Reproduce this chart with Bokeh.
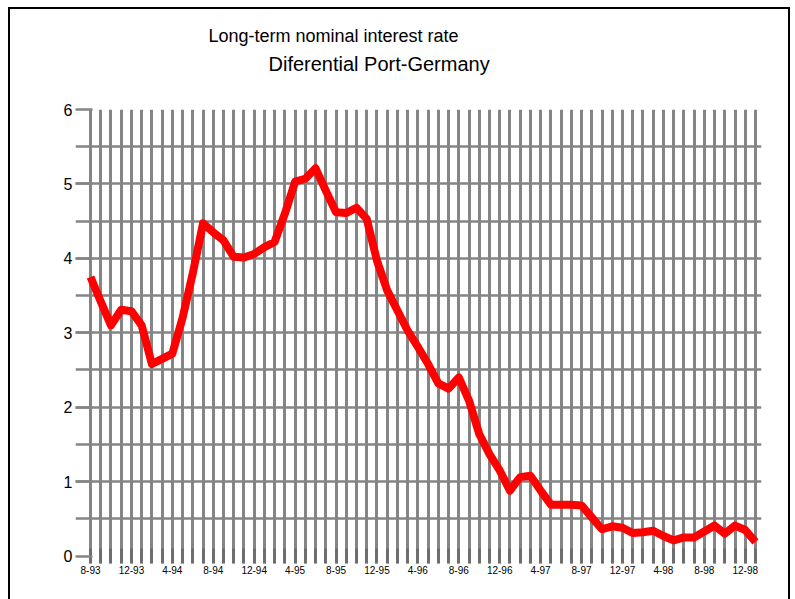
from bokeh.plotting import figure
from bokeh.models import Range1d, FixedTicker, Title, ColumnDataSource
from bokeh.embed import file_html
from bokeh.resources import INLINE

# Monthly data, Aug 1993 .. Jan 1999
months_idx = list(range(66))
differential = [
    3.75, 3.42, 3.10, 3.31, 3.29, 3.10, 2.58, 2.65, 2.72, 3.20,
    3.80, 4.47, 4.35, 4.24, 4.02, 4.01, 4.06, 4.15, 4.22, 4.60,
    5.03, 5.07, 5.21, 4.91, 4.62, 4.61, 4.68, 4.53, 3.97, 3.57,
    3.30, 3.03, 2.81, 2.58, 2.32, 2.25, 2.40, 2.09, 1.64, 1.37,
    1.15, 0.88, 1.06, 1.08, 0.88, 0.69, 0.69, 0.69, 0.68, 0.52,
    0.36, 0.40, 0.38, 0.31, 0.32, 0.34, 0.27, 0.21, 0.25, 0.25,
    0.33, 0.41, 0.30, 0.41, 0.35, 0.19,
]
tick_labels = ["8-93", "12-93", "4-94", "8-94", "12-94", "4-95", "8-95", "12-95",
               "4-96", "8-96", "12-96", "4-97", "8-97", "12-97", "4-98", "8-98", "12-98"]
y_ticks = [0, 1, 2, 3, 4, 5, 6]
y_grid = [0.5, 1, 1.5, 2, 2.5, 3, 3.5, 4, 4.5, 5, 5.5]

title_text = "Long-term nominal interest rate"
subtitle_text = "Diferential Port-Germany"

src = ColumnDataSource(dict(x=months_idx, y=differential))

p = figure(frame_width=686, frame_height=454,
           min_border_left=75, min_border_right=29,
           min_border_top=109, min_border_bottom=36,
           x_range=Range1d(-1.466, 65.59), y_range=Range1d(-0.1, 6),
           output_backend="svg", toolbar_location=None, title=None)
p.styles = {"background": ("linear-gradient(#000,#000) 8px 7px / 2px 592px no-repeat, "
                           "linear-gradient(#000,#000) 8px 7px / 782px 2px no-repeat, "
                           "linear-gradient(#000,#000) 788px 7px / 2px 592px no-repeat, #fff")}
p.outline_line_color = None
p.background_fill_color = "white"
p.border_fill_color = None

grid_col = "#858585"
# x axis
p.xaxis.ticker = FixedTicker(ticks=months_idx)
overrides = {}
for i in months_idx:
    overrides[i] = tick_labels[i // 4] if (i % 4 == 0 and i // 4 < len(tick_labels)) else ""
p.xaxis.major_label_overrides = overrides
p.xaxis.axis_line_color = None
p.xaxis.major_tick_in = 15
p.xaxis.major_tick_out = 0
p.xaxis.major_tick_line_color = "#6e6e6e"
p.xaxis.major_tick_line_width = 3
p.xaxis.minor_tick_line_color = None
p.xaxis.major_label_standoff = 2
p.xaxis.major_label_text_font = "Liberation Sans"
p.xaxis.major_label_text_font_size = "10px"
p.xaxis.major_label_text_color = "black"

# y axis
p.yaxis.ticker = FixedTicker(ticks=y_ticks)
p.yaxis.axis_line_color = None
p.yaxis.major_tick_in = 17
p.yaxis.major_tick_out = 0
p.yaxis.major_tick_line_color = grid_col
p.yaxis.major_tick_line_width = 2.5
p.yaxis.minor_tick_line_color = None
p.yaxis.major_label_standoff = 3
p.yaxis.major_label_text_font = "Liberation Sans"
p.yaxis.major_label_text_font_size = "16px"
p.yaxis.major_label_text_color = "black"

p.xgrid.ticker = FixedTicker(ticks=months_idx)
p.xgrid.grid_line_color = grid_col
p.xgrid.grid_line_width = 3
p.ygrid.ticker = FixedTicker(ticks=y_grid)
p.ygrid.grid_line_color = grid_col
p.ygrid.grid_line_width = 2.5

p.line("x", "y", source=src, line_color="#ff0000", line_width=8, line_join="round")

spacer = Title(text=" ", text_font="Liberation Sans", text_font_size="10px",
               standoff=18)
sub = Title(text=subtitle_text, align="left", offset=193, text_font="Liberation Sans",
            text_font_size="20px", text_font_style="normal", text_color="black",
            standoff=8)
main = Title(text=title_text, align="left", offset=133, text_font="Liberation Sans",
             text_font_size="18px", text_font_style="normal", text_color="black",
             standoff=2)
p.add_layout(spacer, "above")
p.add_layout(sub, "above")
p.add_layout(main, "above")

open("out.html", "w").write(file_html(p, INLINE))
